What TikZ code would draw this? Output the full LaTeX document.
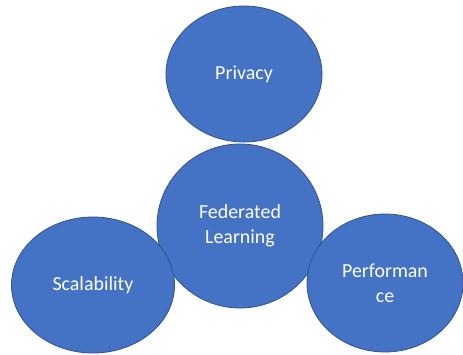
\documentclass[tikz,border=0pt]{standalone}
\usepackage{fontspec}
\setmainfont{Carlito}
\usetikzlibrary{shapes,positioning}
\definecolor{fillblue}{HTML}{4472C4}
\definecolor{lineblue}{HTML}{2F528F}

\begin{document}
\begin{tikzpicture}[x=1bp,y=1bp]
\useasboundingbox (0,0) rectangle (463,354);
\tikzstyle{blob}=[ellipse, draw=lineblue, fill=fillblue, line width=0.8pt, text=white, align=center, inner sep=0pt, font=\fontsize{20}{25}\selectfont]
\node[blob, minimum width=156bp, minimum height=136bp] (privacy) at (244,280) {Privacy};
\node[blob, minimum width=166bp, minimum height=164bp] (fl) at (240,128) {Federated\\Learning};
\node[blob, minimum width=163bp, minimum height=136bp] (scal) at (93,69) {Scalability};
\node[blob, minimum width=156bp, minimum height=138bp] (perf) at (385,71) {Performan\\ce};
\end{tikzpicture}
\end{document}
